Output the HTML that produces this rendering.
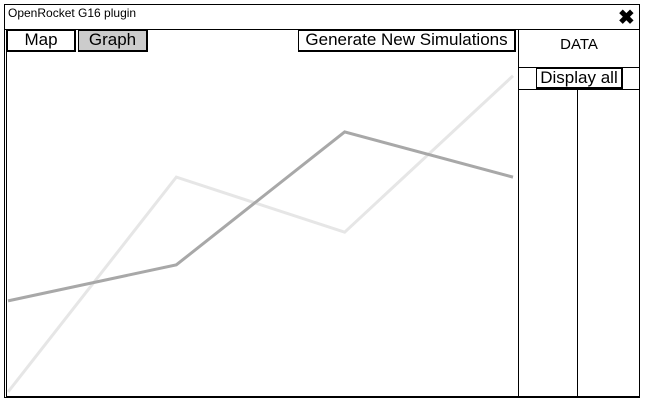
<!DOCTYPE html>
<html><head><meta charset="utf-8"><style>
body{margin:0;width:647px;height:401px;background:#fff;position:relative;overflow:hidden;font-family:"Comic Sans MS","Liberation Sans",sans-serif}
.a{position:absolute;box-sizing:border-box}
.btn{border:2px solid #000;border-top-width:1px;border-left-width:1px;background:#fff;font-size:17px;text-align:center;line-height:18px}
</style></head><body>
<div class="a" style="left:4px;top:4px;width:636px;height:394px;border:1px solid #000"></div>
<div class="a" style="left:8px;top:6px;font-size:12px;font-family:'Liberation Sans',sans-serif">OpenRocket G16 plugin</div>
<div class="a" style="left:618px;top:8px;font-size:20px;font-weight:bold;line-height:20px">✖</div>
<div class="a" style="left:5px;top:29px;width:635px;height:1px;background:#000"></div>
<div class="a" style="left:6px;top:29px;width:633px;height:368px;border-left:1px solid #000;border-bottom:1px solid #000"></div>
<div class="a btn" style="left:7px;top:30px;width:69px;height:22px">Map</div>
<div class="a btn" style="left:78px;top:30px;width:70px;height:22px;background:#ccc">Graph</div>
<div class="a btn" style="left:298px;top:30px;width:218px;height:22px">Generate New Simulations</div>
<div class="a" style="left:518px;top:29px;width:1px;height:368px;background:#000"></div>
<div class="a" style="left:519px;top:36px;width:120px;text-align:center;font-size:15px">DATA</div>
<div class="a" style="left:519px;top:67px;width:120px;height:1px;background:#000"></div>
<div class="a btn" style="left:536px;top:68px;width:87px;height:21px">Display all</div>
<div class="a" style="left:519px;top:89px;width:120px;height:1px;background:#000"></div>
<div class="a" style="left:577px;top:90px;width:1px;height:307px;background:#000"></div>
<svg class="a" id="chart" style="left:0;top:0" width="647" height="401"></svg>
<script>
const categories=["s1","s2","s3","s4"];
const lightSeries=[0,63.2,47,93];
const darkSeries=[26.8,37.4,76.5,63.2];
const xs=i=>8+i*(505/(categories.length-1));
const ys=v=>392-v*3.4;
const svg=document.getElementById('chart');
function draw(vals,color,name){
  const p=document.createElementNS('http://www.w3.org/2000/svg','polyline');
  p.setAttribute('points',vals.map((v,i)=>xs(i)+','+ys(v)).join(' '));
  p.setAttribute('fill','none');p.setAttribute('stroke',color);p.setAttribute('stroke-width','3');
  
  
  svg.appendChild(p);
}
draw(lightSeries,'#e6e6e6','light-series-line');
draw(darkSeries,'#a8a8a8','dark-series-line');
</script>
</body></html>
